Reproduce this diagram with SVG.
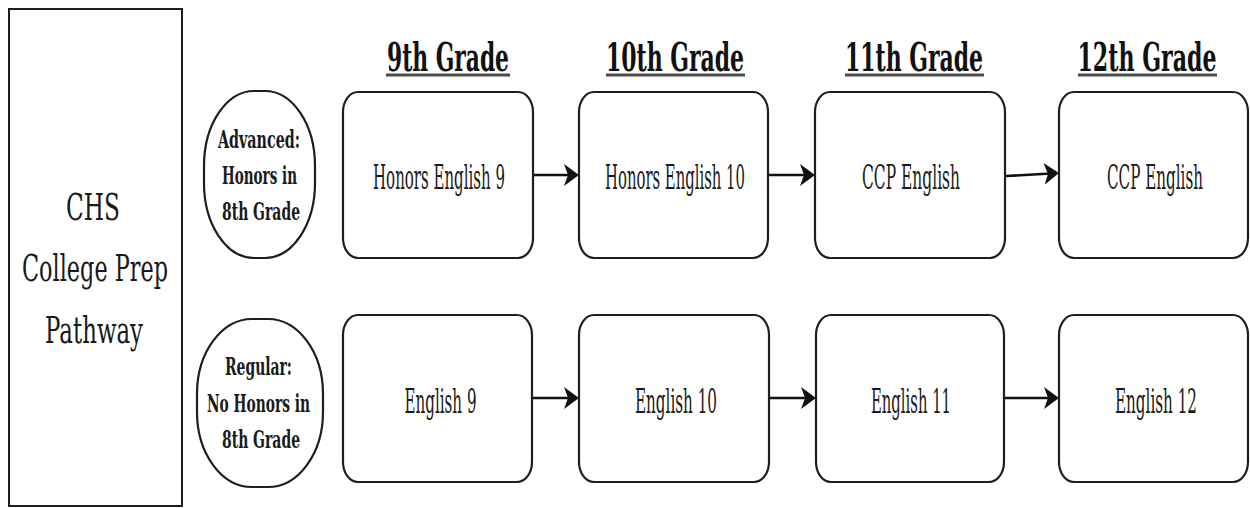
<svg xmlns="http://www.w3.org/2000/svg" width="1250" height="508" viewBox="0 0 1250 508">
<style>
.bg{fill:#fff}
.box{fill:#fff;stroke:#1e1e1e;stroke-width:2.2}
text{font-family:'DejaVu Serif','Liberation Serif',serif;fill:#1a1a1a;text-anchor:middle}
.hdr{font-size:40px;font-weight:bold;fill:#111}
.side{font-size:38px}
.oval{font-size:24.5px;font-weight:bold}
.lbl{font-size:33px}
.ul{stroke:#4a4a4a;stroke-width:3}
.conn{stroke:#111;stroke-width:2.6;fill:none;marker-end:url(#ah)}
</style>
<defs>
<marker id="ah" markerUnits="userSpaceOnUse" viewBox="0 -12 16 24" refX="7" refY="0" markerWidth="16" markerHeight="24" orient="auto">
<path d="M0,-11 L15,0 L0,11 L4,0 Z" fill="#111"/>
</marker>
</defs>
<rect class="bg" x="0" y="0" width="1250" height="508"/>

<g id="pathway">
<rect class="box" x="9" y="9" width="173" height="497" style="stroke-width:2"/>
<text class="side" transform="translate(93 0) scale(0.6 1)" x="0" y="220" textLength="90" lengthAdjust="spacingAndGlyphs">CHS</text>
<text class="side" transform="translate(95 0) scale(0.6 1)" x="0" y="281" textLength="243.3" lengthAdjust="spacingAndGlyphs">College Prep</text>
<text class="side" transform="translate(94 0) scale(0.6 1)" x="0" y="343" textLength="163.3" lengthAdjust="spacingAndGlyphs">Pathway</text>
</g>

<g id="headers">
<text class="hdr" transform="translate(448 0) scale(0.6 1)" x="0" y="71" textLength="203.3" lengthAdjust="spacingAndGlyphs">9th Grade</text>
<line class="ul" x1="386" y1="75" x2="510" y2="75"/>
<text class="hdr" transform="translate(675 0) scale(0.6 1)" x="0" y="71" textLength="230" lengthAdjust="spacingAndGlyphs">10th Grade</text>
<line class="ul" x1="606" y1="75" x2="745" y2="75"/>
<text class="hdr" transform="translate(914 0) scale(0.6 1)" x="0" y="71" textLength="230" lengthAdjust="spacingAndGlyphs">11th Grade</text>
<line class="ul" x1="845" y1="75" x2="984" y2="75"/>
<text class="hdr" transform="translate(1147 0) scale(0.6 1)" x="0" y="71" textLength="231.7" lengthAdjust="spacingAndGlyphs">12th Grade</text>
<line class="ul" x1="1078" y1="75" x2="1217" y2="75"/>
</g>

<g id="advanced">
<rect class="box" x="204" y="91" width="111" height="167" rx="50" ry="75"/>
<text class="oval" transform="translate(259 0) scale(0.6 1)" x="0" y="148" textLength="136.7" lengthAdjust="spacingAndGlyphs">Advanced:</text>
<text class="oval" transform="translate(259.5 0) scale(0.6 1)" x="0" y="184" textLength="125" lengthAdjust="spacingAndGlyphs">Honors in</text>
<text class="oval" transform="translate(261 0) scale(0.6 1)" x="0" y="220" textLength="130" lengthAdjust="spacingAndGlyphs">8th Grade</text>
</g>

<g id="regular">
<rect class="box" x="197" y="319" width="126" height="168" rx="55" ry="75"/>
<text class="oval" transform="translate(258.5 0) scale(0.6 1)" x="0" y="375" textLength="111.7" lengthAdjust="spacingAndGlyphs">Regular:</text>
<text class="oval" transform="translate(258.5 0) scale(0.6 1)" x="0" y="412" textLength="171.7" lengthAdjust="spacingAndGlyphs">No Honors in</text>
<text class="oval" transform="translate(261 0) scale(0.6 1)" x="0" y="448" textLength="130" lengthAdjust="spacingAndGlyphs">8th Grade</text>
</g>

<g id="hon9">
<rect class="box" x="343" y="92" width="190" height="166" rx="15" ry="20"/>
<text class="lbl" transform="translate(439 0) scale(0.6 1)" x="0" y="189" textLength="220" lengthAdjust="spacingAndGlyphs">Honors English 9</text>
</g>
<g id="hon10">
<rect class="box" x="579" y="92" width="189" height="166" rx="15" ry="20"/>
<text class="lbl" transform="translate(675 0) scale(0.6 1)" x="0" y="189" textLength="233.3" lengthAdjust="spacingAndGlyphs">Honors English 10</text>
</g>
<g id="ccp11">
<rect class="box" x="815" y="92" width="190" height="166" rx="15" ry="20"/>
<text class="lbl" transform="translate(911 0) scale(0.6 1)" x="0" y="189" textLength="163.3" lengthAdjust="spacingAndGlyphs">CCP English</text>
</g>
<g id="ccp12">
<rect class="box" x="1059" y="92" width="189" height="166" rx="15" ry="20"/>
<text class="lbl" transform="translate(1155 0) scale(0.6 1)" x="0" y="189" textLength="160" lengthAdjust="spacingAndGlyphs">CCP English</text>
</g>

<g id="eng9">
<rect class="box" x="343" y="315" width="189" height="167" rx="15" ry="20"/>
<text class="lbl" transform="translate(440.5 0) scale(0.6 1)" x="0" y="413" textLength="120" lengthAdjust="spacingAndGlyphs">English 9</text>
</g>
<g id="eng10">
<rect class="box" x="579" y="315" width="190" height="167" rx="15" ry="20"/>
<text class="lbl" transform="translate(676 0) scale(0.6 1)" x="0" y="413" textLength="136.7" lengthAdjust="spacingAndGlyphs">English 10</text>
</g>
<g id="eng11">
<rect class="box" x="816" y="315" width="188" height="167" rx="15" ry="20"/>
<text class="lbl" transform="translate(911 0) scale(0.6 1)" x="0" y="413" textLength="133.3" lengthAdjust="spacingAndGlyphs">English 11</text>
</g>
<g id="eng12">
<rect class="box" x="1059" y="315" width="189" height="167" rx="15" ry="20"/>
<text class="lbl" transform="translate(1156 0) scale(0.6 1)" x="0" y="413" textLength="136.7" lengthAdjust="spacingAndGlyphs">English 12</text>
</g>

<g id="connectors">
<line class="conn" x1="534" y1="175" x2="571" y2="175"/>
<line class="conn" x1="769" y1="175" x2="807" y2="175"/>
<line class="conn" x1="1006" y1="176" x2="1051" y2="173.5"/>
<line class="conn" x1="533" y1="398" x2="571" y2="398"/>
<line class="conn" x1="770" y1="398" x2="808" y2="398"/>
<line class="conn" x1="1005" y1="398" x2="1051" y2="398"/>
</g>
</svg>
